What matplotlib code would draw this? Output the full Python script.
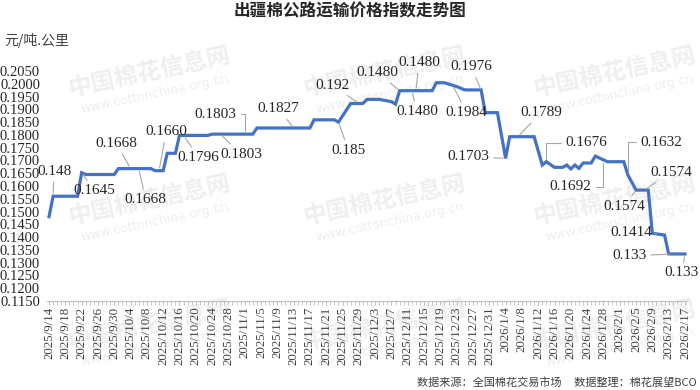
import numpy as np
import pandas as pd
import matplotlib
matplotlib.use('Agg')
from matplotlib import pyplot as plt

# 출신 데이터: 변화 지점(날짜, 지수)
dates = ['2025-09-14', '2025-09-15', '2025-09-21', '2025-09-22', '2025-09-23', '2025-09-30',
         '2025-10-01', '2025-10-09', '2025-10-10', '2025-10-12', '2025-10-13', '2025-10-15',
         '2025-10-16', '2025-10-23', '2025-10-24', '2025-11-03', '2025-11-04', '2025-11-17',
         '2025-11-18', '2025-11-23', '2025-11-24', '2025-11-27', '2025-11-30', '2025-12-01',
         '2025-12-04', '2025-12-07', '2025-12-08', '2025-12-09', '2025-12-17', '2025-12-18',
         '2025-12-20', '2025-12-23', '2025-12-25', '2025-12-29', '2025-12-30', '2026-01-02',
         '2026-01-04', '2026-01-05', '2026-01-11', '2026-01-13', '2026-01-14', '2026-01-16',
         '2026-01-18', '2026-01-19', '2026-01-20', '2026-01-21', '2026-01-22', '2026-01-23',
         '2026-01-25', '2026-01-26', '2026-01-29', '2026-02-02', '2026-02-03', '2026-02-05',
         '2026-02-08', '2026-02-09', '2026-02-12', '2026-02-13', '2026-02-17']
values = [0.1480, 0.1560, 0.1560, 0.1652, 0.1645, 0.1645,
          0.1668, 0.1668, 0.1660, 0.1660, 0.1728, 0.1728,
          0.1798, 0.1798, 0.1803, 0.1803, 0.1827, 0.1827,
          0.1859, 0.1859, 0.1850, 0.1923, 0.1923, 0.1939,
          0.1939, 0.1930, 0.1920, 0.1973, 0.1973, 0.2004,
          0.2004, 0.1989, 0.1976, 0.1976, 0.1887, 0.1887,
          0.1708, 0.1793, 0.1793, 0.1682, 0.1695, 0.1673,
          0.1673, 0.1682, 0.1667, 0.1682, 0.1669, 0.1690,
          0.1690, 0.1717, 0.1695, 0.1695, 0.1643, 0.1584,
          0.1584, 0.1415, 0.1408, 0.1334, 0.1334]

start = pd.Timestamp('2025-09-14')
end = pd.Timestamp('2026-02-17')

# 데이터 라벨 (텍스트, 기준 날짜, 픽셀 오프셋, 꺾임선 여부)
labels = ['0.148', '0.1645', '0.1668', '0.1668', '0.1660', '0.1796', '0.1803', '0.1803',
          '0.1827', '0.192', '0.185', '0.1480', '0.1480', '0.1480', '0.1976', '0.1984',
          '0.1703', '0.1789', '0.1676', '0.1692', '0.1632', '0.1574', '0.1574', '0.1414',
          '0.133', '0.133']
label_dates = ['2025-09-15', '2025-09-22', '2025-10-04', '2025-10-06', '2025-10-11', '2025-10-17',
               '2025-11-01', '2025-10-26', '2025-11-13', '2025-11-29', '2025-11-24', '2025-12-09',
               '2025-12-13', '2025-12-12', '2025-12-29', '2025-12-22', '2026-01-04', '2026-01-07',
               '2026-01-14', '2026-01-28', '2026-02-03', '2026-02-07', '2026-02-05', '2026-02-10',
               '2026-02-14', '2026-02-17']
offsets = [(1, 25), (13, -18), (-14, 25), (7, -31), (7, 39), (15, -22),
           (-29, 20), (21, -20), (-15, 19), (-26, 18), (10, -28), (-22, 18),
           (3, 28), (5, -21), (-10, 23), (14, -27), (-37, 2), (23, 24),
           (40, 19), (-33, -27), (33, 33), (27, 18), (-12, -16), (-25, 1),
           (-43, -2), (-3, -19)]
elbow = [False] * 6 + [True] + [False] * 11 + [True, True, True] + [False] * 5

day = (pd.to_datetime(dates) - start).days.values
n_days = (end - start).days
tick_dates = pd.date_range(start, end, freq='4D')
tick_labels = [f'{d.year}/{d.month}/{d.day}' for d in tick_dates]

W, H = 700, 390
fig = plt.figure(figsize=(W / 100, H / 100), dpi=100)
ax = fig.add_axes([47 / W, 89 / H, 640 / W, 230 / H])
ax.patch.set_alpha(0)

# 워터마크
for wx in (150, 385, 615):
    for wy in (72, 200, 325):
        fig.text(wx / W, 1 - wy / H, '中国棉花信息网', fontsize=17, fontweight='bold',
                 color='#efefef', rotation=12, ha='center', va='center',
                 family=['Noto Sans CJK SC'], zorder=-1)
        fig.text((wx + 5) / W, 1 - (wy + 22) / H, 'www.cottonchina.org.cn', fontsize=9,
                 color='#efefef', rotation=12, ha='center', va='center', zorder=-1)

ax.plot(day, values, color='#4472c4', lw=2.3, solid_joinstyle='miter', zorder=3)

num_font = ['Liberation Serif', 'Noto Sans CJK SC']
for txt, ld, (dx, dy), el in zip(labels, label_dates, offsets, elbow):
    d = (pd.Timestamp(ld) - start).days
    y = np.interp(d, day, values)
    cs = 'angle,angleA=0,angleB=90,rad=0' if el else 'arc3'
    ax.annotate(txt, xy=(d, y), xytext=(dx, dy), textcoords='offset pixels',
                ha='center', va='center', fontsize=11, family=num_font, color='#262626',
                arrowprops=dict(arrowstyle='-', color='#a6a6a6', lw=0.8,
                                shrinkA=1, shrinkB=2, connectionstyle=cs),
                zorder=4)

ax.set_xlim(-0.5, n_days + 0.5)
ax.set_ylim(0.115, 0.205)
ax.set_yticks(np.arange(0.115, 0.2051, 0.005))
ax.set_yticklabels([f'{v:.4f}' for v in np.arange(0.115, 0.2051, 0.005)],
                   family=num_font, fontsize=10.5, color='#262626')
ax.set_xticks((tick_dates - start).days)
ax.set_xticklabels(tick_labels, rotation=90, family=num_font, fontsize=9.3, color='#404040')
ax.set_xticks(np.arange(0, n_days + 1), minor=True)
ax.tick_params(axis='y', length=0, pad=5)
ax.tick_params(axis='x', which='both', length=3, color='#bfbfbf', pad=1)
for s in ('top', 'right', 'left'):
    ax.spines[s].set_visible(False)
ax.spines['bottom'].set_color('#bfbfbf')

fig.text(0.5, 1 - 11 / H, '出疆棉公路运输价格指数走势图', ha='center', va='center',
         fontsize=12, fontweight='bold', family=['Noto Sans CJK SC'], color='#262626')
fig.text(4 / W, 1 - 40 / H, '元/吨.公里', ha='left', va='center', fontsize=10,
         family=['Noto Sans CJK SC'], color='#404040')
fig.text(697 / W, 1 - 382 / H, '数据来源：全国棉花交易市场     数据整理：棉花展望BCO',
         ha='right', va='center', fontsize=8, family=['Noto Sans CJK SC', 'DejaVu Sans'],
         color='#404040')

fig.savefig('out.png', dpi=100)
